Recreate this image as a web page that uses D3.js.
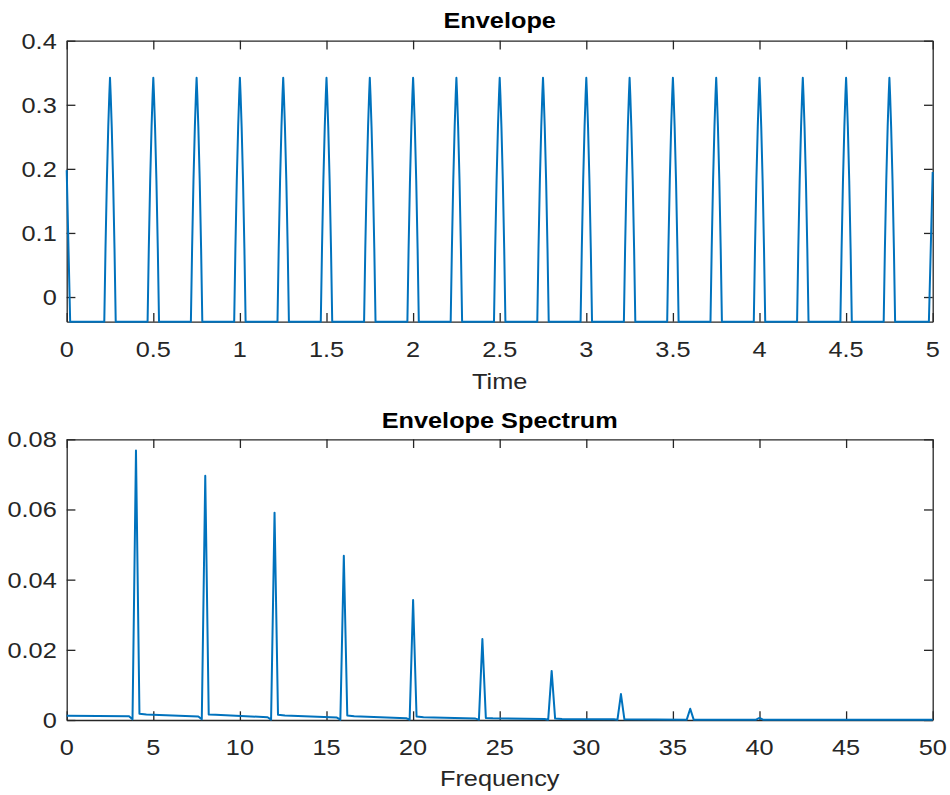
<!DOCTYPE html>
<html><head><meta charset="utf-8">
<script src="https://cdn.jsdelivr.net/npm/d3@7"></script>
<style>body{margin:0;background:#fff} svg{display:block}</style>
</head><body>
<script>
// ---------- Data ----------
const envTicksX = [0, 0.5, 1, 1.5, 2, 2.5, 3, 3.5, 4, 4.5, 5];
const envTickLabelsX = ["0", "0.5", "1", "1.5", "2", "2.5", "3", "3.5", "4", "4.5", "5"];
const envTicksY = [0, 0.1, 0.2, 0.3, 0.4];
const envTickLabelsY = ["0", "0.1", "0.2", "0.3", "0.4"];
const envPeakTimes = [0.25, 0.5, 0.75, 1, 1.25, 1.5, 1.75, 2, 2.25, 2.5, 2.75, 3, 3.25, 3.5, 3.75, 4, 4.25, 4.5, 4.75];
const envPeakValues = [0.342, 0.342, 0.342, 0.342, 0.342, 0.342, 0.342, 0.342, 0.342, 0.342, 0.342, 0.342, 0.342, 0.342, 0.342, 0.342, 0.342, 0.342, 0.342];
const envBaseline = -0.0385;
const envPulseOffsets = [-0.033, -0.026, -0.018, -0.010, -0.004, 0, 0.004, 0.010, 0.018, 0.026, 0.033];
const envPulseShape = [0, 0.30, 0.58, 0.80, 0.93, 1, 0.93, 0.80, 0.58, 0.30, 0];
const envEdgeTimes = [0, 0.02, 4.978, 5];
const envEdgeValues = [0.198, -0.0385, -0.0385, 0.195];

const specTicksX = [0, 5, 10, 15, 20, 25, 30, 35, 40, 45, 50];
const specTickLabelsX = ["0", "5", "10", "15", "20", "25", "30", "35", "40", "45", "50"];
const specTicksY = [0, 0.02, 0.04, 0.06, 0.08];
const specTickLabelsY = ["0", "0.02", "0.04", "0.06", "0.08"];
const specFreq = [0, 3.6, 3.8, 4.0, 4.2, 4.6, 7.6, 7.8, 8.0, 8.2, 8.6, 11.6, 11.8, 12.0, 12.2, 12.6,
  15.6, 15.8, 16.0, 16.2, 16.6, 19.6, 19.8, 20.0, 20.2, 20.6, 23.6, 23.8, 24.0, 24.2, 24.6,
  27.6, 27.8, 28.0, 28.2, 28.6, 31.6, 31.8, 32.0, 32.2, 35.8, 36.0, 36.2, 39.8, 40.0, 40.2, 50];
const specAmp = [0.0012, 0.0011, 0.0002, 0.0768, 0.0018, 0.0016, 0.0010, 0.0002, 0.0696, 0.0016, 0.0015, 0.0008, 0.0001, 0.0591, 0.0015, 0.0013,
  0.0007, 0.0001, 0.0468, 0.0013, 0.0011, 0.0005, 0.0001, 0.0342, 0.0010, 0.0008, 0.0004, 0.0001, 0.0231, 0.0006, 0.0005,
  0.0003, 0.0001, 0.0140, 0.0004, 0.0003, 0.0002, 0.0001, 0.0074, 0.0002, 0.0001, 0.0032, 0.0001, 0.0001, 0.0006, 0.0001, 0.0001];

// ---------- Layout ----------
const W = 950, H = 795;
const FONT = "'Liberation Sans', Arial, Helvetica, sans-serif";
const FS = 22, SX = 1.15;
const AX = "#262626", LINE = "#0072BD";
const X0 = 66.7, X1 = 932.7;
const boxTop = {y0: 40.7, y1: 321.7}, boxBot = {y0: 439.3, y1: 720};
const TICK = 8.7;

const svg = d3.select("body").append("svg").attr("width", W).attr("height", H)
  .style("font-family", FONT);

function stretchedText(g, x, y, str, opts = {}) {
  return g.append("text")
    .attr("transform", `translate(${x},${y}) scale(${SX},1)`)
    .attr("text-anchor", opts.anchor || "middle")
    .attr("font-size", opts.size || FS)
    .attr("font-weight", opts.weight || "normal")
    .attr("fill", opts.fill || AX)
    .text(str);
}

function drawAxes(box, xs, ys, xTicks, xLabels, yTicks, yLabels) {
  const g = svg.append("g");
  const style = sel => {
    sel.selectAll("path.domain").attr("stroke", AX).attr("stroke-width", 1.3);
    sel.selectAll(".tick line").attr("stroke", AX).attr("stroke-width", 1.3);
    sel.selectAll(".tick text").remove();
  };
  g.append("g").attr("transform", `translate(0,${box.y1})`)
    .call(d3.axisBottom(xs).tickValues(xTicks).tickSizeInner(-TICK).tickSizeOuter(0)).call(style);
  g.append("g").attr("transform", `translate(0,${box.y0})`)
    .call(d3.axisTop(xs).tickValues(xTicks).tickSizeInner(-TICK).tickSizeOuter(0)).call(style);
  g.append("g").attr("transform", `translate(${X0},0)`)
    .call(d3.axisLeft(ys).tickValues(yTicks).tickSizeInner(-TICK).tickSizeOuter(0)).call(style);
  g.append("g").attr("transform", `translate(${X1},0)`)
    .call(d3.axisRight(ys).tickValues(yTicks).tickSizeInner(-TICK).tickSizeOuter(0)).call(style);
  xTicks.forEach((t, i) => stretchedText(g, xs(t), box.y1 + 35, xLabels[i]));
  yTicks.forEach((t, i) => stretchedText(g, X0 - 10, ys(t) + 7.9, yLabels[i], {anchor: "end"}));
}

// ---------- Top: Envelope ----------
const xEnv = d3.scaleLinear().domain([0, 5]).range([X0, X1]);
const yEnv = d3.scaleLinear().domain([envBaseline, 0.4]).range([boxTop.y1, boxTop.y0]);
drawAxes(boxTop, xEnv, yEnv, envTicksX, envTickLabelsX, envTicksY, envTickLabelsY);

const envPts = [];
envPts.push([envEdgeTimes[0], envEdgeValues[0]], [envEdgeTimes[1], envEdgeValues[1]]);
envPeakTimes.forEach((t, i) => {
  envPulseOffsets.forEach((o, j) => {
    envPts.push([t + o, envBaseline + envPulseShape[j] * (envPeakValues[i] - envBaseline)]);
  });
});
envPts.push([envEdgeTimes[2], envEdgeValues[2]], [envEdgeTimes[3], envEdgeValues[3]]);

svg.append("path").datum(envPts)
  .attr("fill", "none").attr("stroke", LINE).attr("stroke-width", 2)
  .attr("stroke-linejoin", "round")
  .attr("d", d3.line().x(d => xEnv(d[0])).y(d => yEnv(d[1])));

stretchedText(svg, (X0 + X1) / 2, 28, "Envelope", {weight: "bold", fill: "#000"});
stretchedText(svg, (X0 + X1) / 2, 389, "Time");

// ---------- Bottom: Envelope Spectrum ----------
const xSp = d3.scaleLinear().domain([0, 50]).range([X0, X1]);
const ySp = d3.scaleLinear().domain([0, 0.08]).range([boxBot.y1, boxBot.y0]);
drawAxes(boxBot, xSp, ySp, specTicksX, specTickLabelsX, specTicksY, specTickLabelsY);

svg.append("path").datum(specFreq.map((f, i) => [f, specAmp[i]]))
  .attr("fill", "none").attr("stroke", LINE).attr("stroke-width", 2)
  .attr("stroke-linejoin", "round")
  .attr("d", d3.line().x(d => xSp(d[0])).y(d => ySp(d[1])));

stretchedText(svg, (X0 + X1) / 2, 428, "Envelope Spectrum", {weight: "bold", fill: "#000"});
stretchedText(svg, (X0 + X1) / 2, 786, "Frequency");
</script>
</body></html>
